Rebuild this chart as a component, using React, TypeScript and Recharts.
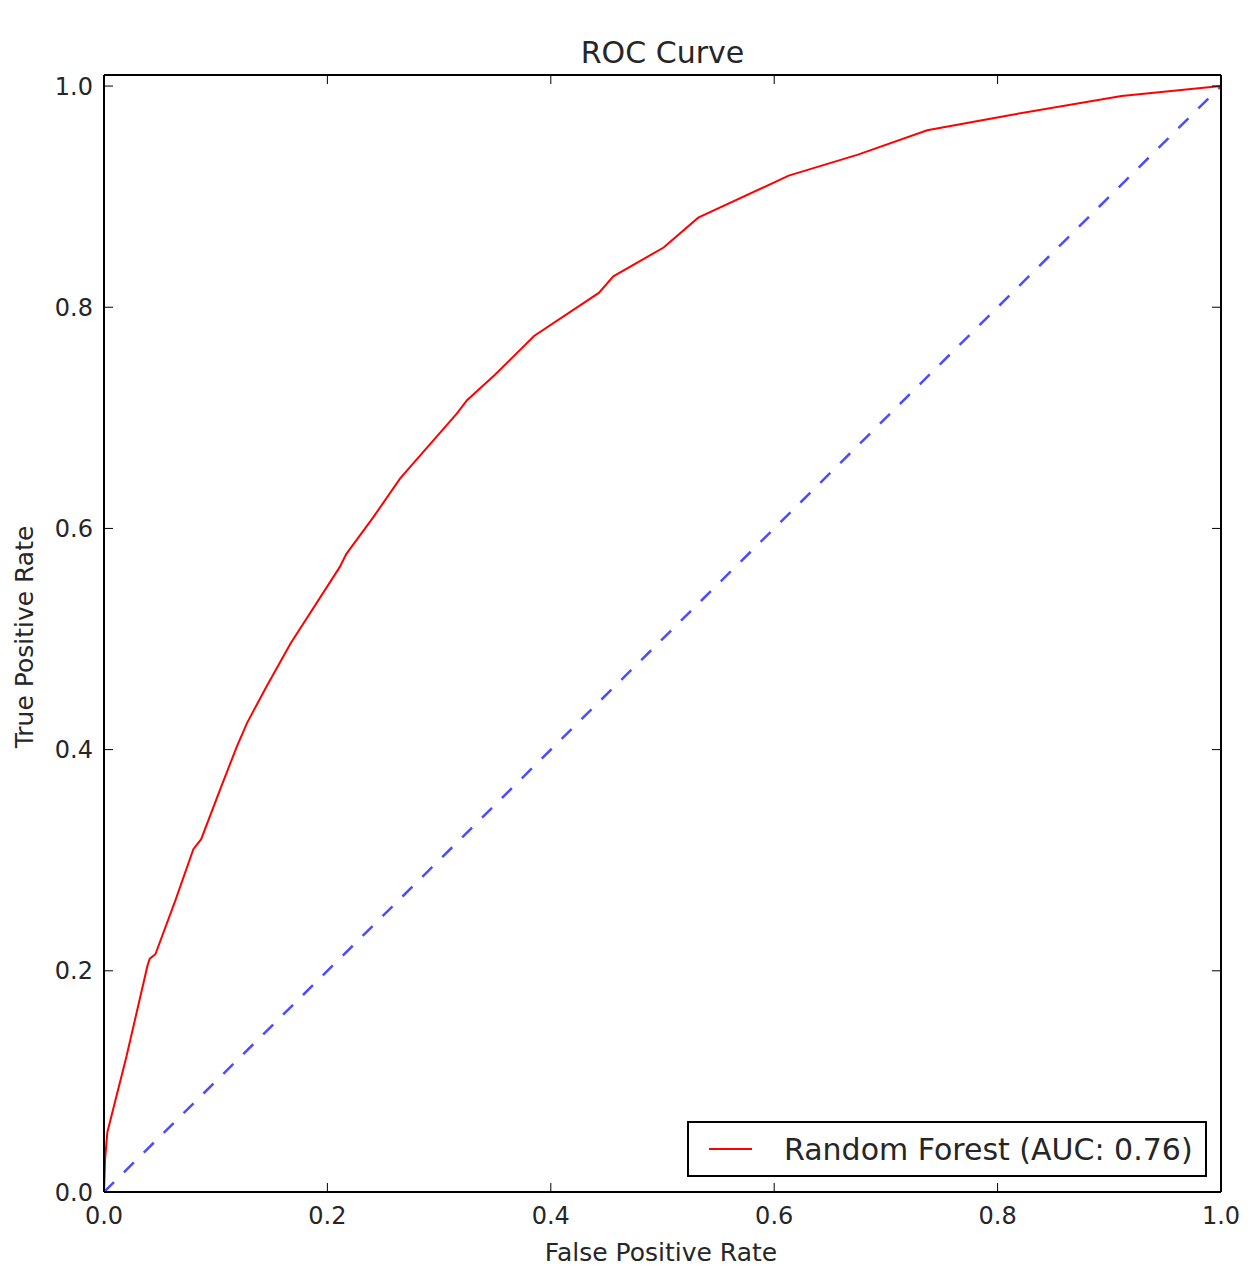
import React from 'react';
import { LineChart, Line, XAxis, YAxis, Legend } from 'recharts';

const fpr = [0, 0.001, 0.003, 0.02, 0.039, 0.041, 0.046, 0.064, 0.08, 0.087, 0.104, 0.119, 0.128, 0.146, 0.167, 0.211, 0.217, 0.241, 0.265, 0.271, 0.316, 0.325, 0.35, 0.385, 0.443, 0.456, 0.501, 0.532, 0.613, 0.675, 0.737, 0.807, 0.911, 1.0];
const tpr = [0, 0.03, 0.054, 0.122, 0.205, 0.211, 0.215, 0.264, 0.31, 0.319, 0.364, 0.403, 0.424, 0.458, 0.496, 0.565, 0.577, 0.61, 0.645, 0.652, 0.704, 0.716, 0.739, 0.774, 0.813, 0.828, 0.854, 0.881, 0.919, 0.938, 0.96, 0.973, 0.991, 1.0];
const chanceX = [0, 1];
const chanceY = [0, 1];
const ticks = [0, 0.2, 0.4, 0.6, 0.8, 1.0];
const seriesName = 'Random Forest (AUC: 0.76)';
const title = 'ROC Curve';
const xLabel = 'False Positive Rate';
const yLabel = 'True Positive Rate';

const rocData = fpr.map((x, i) => ({ x, y: tpr[i] }));
const chanceData = chanceX.map((x, i) => ({ x, y: chanceY[i] }));

const FONT = '"DejaVu Sans", sans-serif';
const TXT = '#262626';
const fmt = (v: number) => v.toFixed(1);
const emptyTick = () => <g />;

const renderLegend = () => (
  <div
    style={{
      width: 516,
      height: 52,
      border: '2px solid #000',
      background: '#fff',
      boxSizing: 'content-box',
      position: 'relative',
      fontFamily: FONT,
    }}
  >
    <svg width={516} height={52} style={{ position: 'absolute', left: 0, top: 0 }}>
      <line x1={20} x2={63} y1={26} y2={26} stroke="#ff0000" strokeWidth={2} />
      <text x={95} y={37} fontSize={30} fill={TXT} fontFamily={FONT}>
        {seriesName}
      </text>
    </svg>
  </div>
);

export default function App() {
  return (
    <div style={{ position: 'absolute', left: 0, top: 0, width: 1254, height: 1279, background: '#fff' }}>
      <LineChart
        width={1254}
        height={1279}
        margin={{ top: 74, right: 32, bottom: 47, left: 24 }}
      >
        <XAxis
          type="number"
          dataKey="x"
          domain={[0, 1]}
          ticks={ticks}
          tickFormatter={fmt}
          height={40}
          tickSize={-9}
          tickMargin={24}
          interval={0}
          axisLine={{ stroke: '#000', strokeWidth: 2 }}
          tickLine={{ stroke: '#000', strokeWidth: 1 }}
          tick={{ fontSize: 24, fill: TXT, fontFamily: FONT }}
          allowDataOverflow
        />
        <XAxis
          xAxisId="top"
          orientation="top"
          type="number"
          dataKey="x"
          domain={[0, 1]}
          ticks={ticks}
          height={1}
          tickSize={-9}
          interval={0}
          axisLine={{ stroke: '#000', strokeWidth: 2 }}
          tickLine={{ stroke: '#000', strokeWidth: 1 }}
          tick={emptyTick}
          allowDataOverflow
        />
        <YAxis
          type="number"
          dataKey="y"
          domain={[0, 1.01]}
          ticks={ticks}
          tickFormatter={fmt}
          width={80}
          tickSize={-9}
          tickMargin={20}
          interval={0}
          axisLine={{ stroke: '#000', strokeWidth: 2 }}
          tickLine={{ stroke: '#000', strokeWidth: 1 }}
          tick={{ fontSize: 24, fill: TXT, fontFamily: FONT }}
          allowDataOverflow
        />
        <YAxis
          yAxisId="right"
          orientation="right"
          type="number"
          dataKey="y"
          domain={[0, 1.01]}
          ticks={ticks}
          width={1}
          tickSize={-9}
          interval={0}
          axisLine={{ stroke: '#000', strokeWidth: 2 }}
          tickLine={{ stroke: '#000', strokeWidth: 1 }}
          tick={emptyTick}
          allowDataOverflow
        />
        <Line
          data={chanceData}
          dataKey="y"
          xAxisId="top"
          yAxisId="right"
          type="linear"
          stroke="#4b4bff"
          strokeWidth={2.5}
          strokeDasharray="14 14"
          dot={false}
          activeDot={false}
          legendType="none"
          isAnimationActive={false}
        />
        <Line
          data={rocData}
          dataKey="y"
          name={seriesName}
          type="linear"
          stroke="#ff0000"
          strokeWidth={2}
          dot={false}
          activeDot={false}
          isAnimationActive={false}
        />
        <Legend
          layout="vertical"
          align="center"
          verticalAlign="middle"
          content={renderLegend}
          wrapperStyle={{ position: 'absolute', left: 687, top: 1121, width: 520, height: 56 }}
        />
      </LineChart>
      <svg
        width={1254}
        height={1279}
        style={{ position: 'absolute', left: 0, top: 0, pointerEvents: 'none' }}
      >
        <text x={662.5} y={63} textAnchor="middle" fontSize={30} fill={TXT} fontFamily={FONT}>
          {title}
        </text>
        <text x={661} y={1261} textAnchor="middle" fontSize={25} fill={TXT} fontFamily={FONT}>
          {xLabel}
        </text>
        <text
          x={0}
          y={0}
          textAnchor="middle"
          fontSize={25}
          fill={TXT}
          fontFamily={FONT}
          transform="translate(33,637) rotate(-90)"
        >
          {yLabel}
        </text>
      </svg>
    </div>
  );
}
